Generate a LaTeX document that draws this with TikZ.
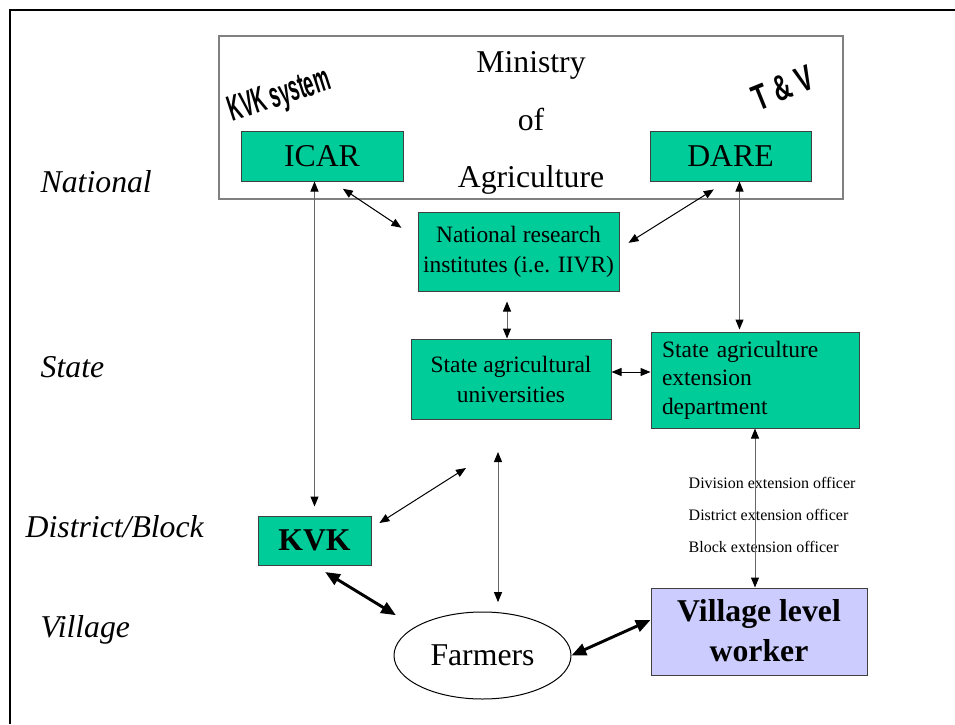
\documentclass[tikz,border=0pt]{standalone}
\usepackage{fontspec}
\setmainfont{Liberation Serif}
\newfontfamily\logofont{Liberation Sans}
\usetikzlibrary{arrows.meta, positioning, calc, shapes.geometric}

\definecolor{boxgreen}{RGB}{0,204,153}
\definecolor{vlwblue}{RGB}{204,204,255}
\definecolor{edgegray}{RGB}{64,64,64}

\newcommand{\largetype}{\fontsize{23.8}{28}\selectfont}
\newcommand{\boxtype}{\fontsize{17.6}{22.5}\selectfont}

\tikzset{
  orgbox/.style={draw=edgegray, fill=boxgreen, line width=0.75pt, inner sep=0pt, align=center, font=\boxtype},
  link/.style={line width=0.75pt, {Triangle[length=7.5pt, width=6pt, color=black]}-{Triangle[length=7.5pt, width=6pt, color=black]}},
  greylink/.style={link, draw=black!60},
  strong/.style={line width=2.2pt, {Triangle[length=11pt, width=9pt]}-{Triangle[length=11pt, width=9pt]}},
  level/.style={anchor=west, font=\largetype\itshape},
  officer/.style={anchor=west, font=\fontsize{12}{14}\selectfont},
  logo/.style={font=\logofont\bfseries\fontsize{27}{29}\selectfont, inner sep=0pt},
}

\begin{document}
\begin{tikzpicture}[x=0.75pt, y=-0.75pt]
  \useasboundingbox (0,0) rectangle (955,724);
  % page frame
  \draw[line width=1.5pt] (955,10) -- (10,10) -- (10,724);

  % Ministry with its two departments
  \node[draw=black!50, line width=1.1pt, minimum width=468pt, minimum height=122.25pt] (moa) at (531,117.5) {};
  \node[font=\fontsize{23.8}{43}\selectfont, align=center] (moatext) at (531,123) {Ministry\\of\\Agriculture};
  \node[orgbox, font=\largetype, minimum width=121.5pt, minimum height=37.5pt] (icar) at (322,156) {ICAR};
  \node[orgbox, font=\largetype, minimum width=120.75pt, minimum height=37.5pt] (dare) at (730.5,156) {DARE};
  \node[logo, rotate=18] (kvksys) at (280,97) {\scalebox{0.5}[1]{KVK system}};
  \node[logo, rotate=22] (tandv) at (783,88) {\scalebox{0.68}[1]{T \& V}};

  % research and state bodies
  \node[orgbox, minimum width=150.75pt, minimum height=59.25pt] (nri) at (518.5,251.5) {National research\\institutes (i.e. IIVR)};
  \node[orgbox, minimum width=150pt, minimum height=60pt] (sau) at (511,379) {State agricultural\\universities};
  \node[orgbox, align=left, text width=139.5pt, inner xsep=8.25pt, minimum height=72pt,
        font=\fontsize{17.6}{21.4}\selectfont] (saed) at (755,380) {State agriculture\\extension\\department};

  % district and village
  \node[orgbox, font=\largetype\bfseries, minimum width=84.75pt, minimum height=36.75pt] (kvk) at (314.5,540.5) {KVK};
  \node[draw, ellipse, line width=0.75pt, inner sep=0pt, minimum width=132.75pt, minimum height=65.25pt, font=\largetype] (farmers) at (482.5,655.5) {Farmers};
  \node[orgbox, fill=vlwblue, font=\fontsize{23.8}{30}\selectfont\bfseries, minimum width=162pt, minimum height=65.25pt,
        text depth=2pt] (vlw) at (759,631.5) {Village level\\worker};

  % levels
  \node[level] (national) at (36,182) {National};
  \node[level] (state) at (36,367) {State};
  \node[level] (district) at (21,527) {District/Block};
  \node[level] (village) at (36,630) {Village};

  % officers between department and village worker
  \foreach \i/\t in {0/Division, 1/District, 2/Block}
    \node[officer] (off\i) at (684,483+32*\i) {\t\ extension officer};

  % connectors
  \coordinate (dv) at ($(dare.south)+(9,0)$);
  \coordinate (nv) at ($(nri.south)+(-11.5,0)$);
  \coordinate (sh) at ($(sau.east)+(0,-7)$);
  \coordinate (sauGap) at (466,468);
  \coordinate (farmGap) at (498,452);

  \draw[link, shorten <=9.75pt, shorten >=14.5pt] ($(icar.south)+(10,0)$) -- ($(nri.west)+(0,-13)$);
  \draw[link, shorten <=11.25pt, shorten >=8pt] ($(dare.south)+(-4,0)$) -- ($(nri.east)+(0,-3)$);
  \draw[greylink, shorten >=1.5pt] (dv) -- (dv |- saed.north);
  \draw[greylink, shorten >=6.75pt] (kvk.north |- icar.south) -- (kvk.north);
  \draw[greylink, shorten <=7.5pt] (nv) -- (nv |- sau.north);
  \draw[link] (sh) -- (sh -| saed.west);
  \draw[link, shorten <=7pt] ($(kvk.east)+(0,-12.5)$) -- (sauGap);
  \draw[greylink, shorten >=7pt] (farmGap) -- ($(farmers.north)+(15.5,0)$);
  \draw[greylink] (saed.south) -- (saed.south |- vlw.north);
  \draw[strong, shorten <=9.4pt, shorten >=16.8pt] (kvk.south) -- (farmers.157);
  \draw[strong] (farmers.east) -- ($(vlw.west)+(0,-11.5)$);
\end{tikzpicture}
\end{document}
